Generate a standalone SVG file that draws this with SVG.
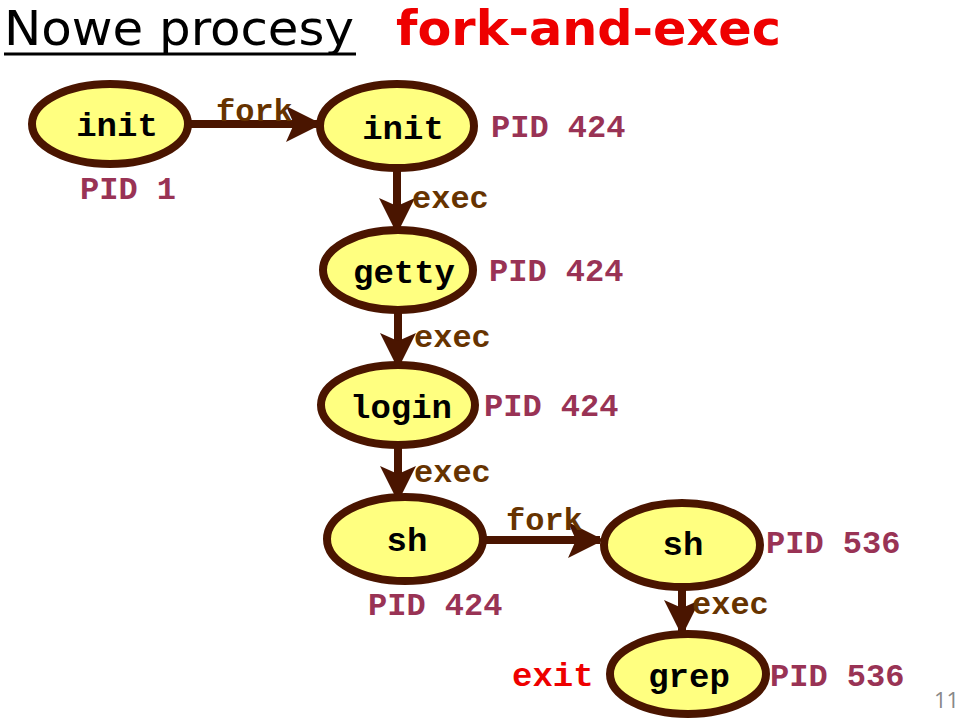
<svg xmlns="http://www.w3.org/2000/svg" width="960" height="718" viewBox="0 0 960 718">
<style>
.n{fill:#ffff80;stroke:#4a1500;stroke-width:8}
.t{font-family:"Liberation Mono",monospace;font-weight:bold;font-size:34px;fill:#000;text-anchor:middle}
.p{font-family:"Liberation Mono",monospace;font-weight:bold;font-size:32px;fill:#993355}
.l{font-family:"Liberation Mono",monospace;font-weight:bold;font-size:32px;fill:#663300}
.c line{stroke:#4a1500;stroke-width:8}
</style>
<defs><marker id="a" markerWidth="4.5" markerHeight="4.5" refX="4" refY="2.25" orient="auto" markerUnits="strokeWidth"><path d="M0,0L4.5,2.25L0,4.5L1,2.25Z" fill="#4a1500"/></marker></defs>
<rect width="960" height="718" fill="#fff"/>
<text x="4" y="45" font-family="DejaVu Sans Condensed,DejaVu Sans,sans-serif" font-size="48" fill="#000" textLength="350" lengthAdjust="spacingAndGlyphs">Nowe procesy</text>
<line x1="4" y1="54" x2="356" y2="54" stroke="#000" stroke-width="3"/>
<text x="396" y="45" font-family="DejaVu Sans Condensed,DejaVu Sans,sans-serif" font-weight="bold" font-size="48" fill="#ee0000" textLength="385" lengthAdjust="spacingAndGlyphs">fork-and-exec</text>
<g class="c">
<line x1="190" y1="124" x2="318" y2="124" marker-end="url(#a)"/>
<line x1="397" y1="168" x2="397" y2="230" marker-end="url(#a)"/>
<line x1="398" y1="310" x2="398" y2="365" marker-end="url(#a)"/>
<line x1="398" y1="445" x2="398" y2="498" marker-end="url(#a)"/>
<line x1="486" y1="540" x2="600" y2="540" marker-end="url(#a)"/>
<line x1="682" y1="588" x2="682" y2="632" marker-end="url(#a)"/>
</g>
<text class="l" x="216" y="121">fork</text>
<text class="l" x="412" y="208">exec</text>
<text class="l" x="414" y="347">exec</text>
<text class="l" x="414" y="482">exec</text>
<text class="l" x="506" y="530">fork</text>
<text class="l" x="692" y="614">exec</text>
<g id="init1"><ellipse class="n" cx="110" cy="124" rx="78" ry="40"/><text class="t" x="117" y="136">init</text></g>
<g id="init2"><ellipse class="n" cx="397" cy="126" rx="77" ry="42"/><text class="t" x="403" y="139">init</text></g>
<g id="getty"><ellipse class="n" cx="398" cy="270" rx="75" ry="40"/><text class="t" x="404" y="283">getty</text></g>
<g id="login"><ellipse class="n" cx="398" cy="405" rx="77" ry="40"/><text class="t" x="401" y="418">login</text></g>
<g id="sh1"><ellipse class="n" cx="405" cy="539" rx="78" ry="42"/><text class="t" x="407" y="551">sh</text></g>
<g id="sh2"><ellipse class="n" cx="682" cy="545" rx="78" ry="42"/><text class="t" x="683" y="555">sh</text></g>
<g id="grep"><ellipse class="n" cx="688" cy="674" rx="78" ry="40"/><text class="t" x="689" y="687">grep</text></g>
<text class="p" x="80" y="199">PID 1</text>
<text class="p" x="491" y="137">PID 424</text>
<text class="p" x="489" y="281">PID 424</text>
<text class="p" x="484" y="416">PID 424</text>
<text class="p" x="368" y="615">PID 424</text>
<text class="p" x="766" y="553">PID 536</text>
<text class="p" x="770" y="686">PID 536</text>
<text x="512" y="686" font-family="Liberation Mono,monospace" font-weight="bold" font-size="34" fill="#ee0000">exit</text>
<text x="934" y="708" font-family="Open Sans,sans-serif" font-size="22" fill="#888">11</text>
</svg>
